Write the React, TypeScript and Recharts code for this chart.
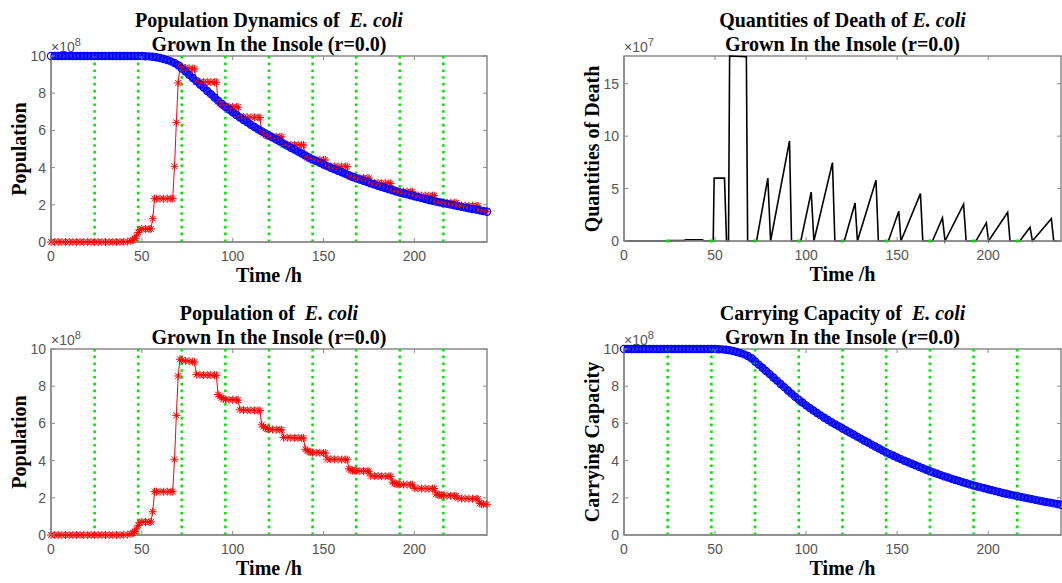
import React from "react";
import { ComposedChart, Line, XAxis, YAxis, ReferenceLine, ReferenceArea, Scatter } from "recharts";

// axis ticks and day marks (hours)
const timeTicks = [0, 50, 100, 150, 200];
const popTicks = [0, 2, 4, 6, 8, 10];
const deathTicks = [0, 5, 10, 15];
const dayMarks = [24, 48, 72, 96, 120, 144, 168, 192, 216];

// population of E. coli, x1e8
const popTime = [
  0, 2, 4, 6, 8, 10, 12, 14, 16, 18, 20, 22, 24, 26, 28, 30, 32, 34, 36, 38,
  40, 42, 44, 45, 46, 47, 48, 49,
  50, 52, 54, 55, 56, 57,
  58, 60, 62, 64, 66, 67,
  68, 69, 70, 71,
  72, 74, 76, 78, 79,
  80, 82, 84, 86, 88, 90, 91,
  92, 93, 94, 95,
  96, 98, 100, 102, 103,
  104, 106, 108, 110, 112, 114, 115,
  116, 117, 118, 119,
  120, 122, 124, 126, 127,
  128, 130, 132, 134, 136, 138, 139,
  140, 141, 142, 143,
  144, 146, 148, 150, 151,
  152, 154, 156, 158, 160, 162, 163,
  164, 165, 166, 167,
  168, 170, 172, 174, 175,
  176, 178, 180, 182, 184, 186, 187,
  188, 189, 190, 191,
  192, 194, 196, 198, 199,
  200, 202, 204, 206, 208, 210, 211,
  212, 213, 214, 215,
  216, 218, 220, 222, 223,
  224, 226, 228, 230, 232, 234, 235,
  236, 237, 238, 240,
];
const popValue = [
  0, 0, 0, 0, 0, 0, 0, 0, 0, 0, 0, 0, 0, 0, 0, 0, 0, 0, 0, 0,
  0.01, 0.02, 0.06, 0.1, 0.18, 0.32, 0.52, 0.66,
  0.7, 0.7, 0.7, 0.7, 1.25, 2.33,
  2.33, 2.33, 2.33, 2.33, 2.33, 2.33,
  4.07, 6.43, 8.55, 9.45,
  9.4, 9.36, 9.34, 9.32, 9.3,
  8.62, 8.61, 8.6, 8.6, 8.6, 8.59, 8.59,
  7.55, 7.45, 7.38, 7.32,
  7.28, 7.27, 7.27, 7.26, 7.25,
  6.73, 6.72, 6.71, 6.7, 6.7, 6.69, 6.69,
  5.92, 5.82, 5.76, 5.71,
  5.68, 5.67, 5.66, 5.66, 5.65,
  5.24, 5.23, 5.23, 5.22, 5.22, 5.21, 5.21,
  4.61, 4.53, 4.48, 4.45,
  4.43, 4.42, 4.42, 4.41, 4.41,
  4.08, 4.07, 4.07, 4.06, 4.06, 4.06, 4.05,
  3.56, 3.5, 3.47, 3.46,
  3.45, 3.44, 3.44, 3.43, 3.43,
  3.18, 3.17, 3.17, 3.16, 3.16, 3.16, 3.15,
  2.84, 2.78, 2.75, 2.73,
  2.72, 2.71, 2.71, 2.7, 2.7,
  2.51, 2.5, 2.5, 2.5, 2.49, 2.49, 2.49,
  2.21, 2.16, 2.14, 2.13,
  2.12, 2.11, 2.11, 2.1, 2.1,
  1.97, 1.96, 1.96, 1.95, 1.95, 1.95, 1.94,
  1.7, 1.67, 1.66, 1.65,
];

// carrying capacity, x1e8
const capTime = [
  0, 2, 4, 6, 8, 10, 12, 14, 16, 18, 20, 22, 24, 26, 28, 30, 32, 34, 36, 38, 40,
  42, 44, 46, 48, 50, 52, 54, 56, 58, 60, 62, 64, 66, 68, 70, 72, 74, 76, 78, 80,
  82, 84, 86, 88, 90, 92, 94, 96, 98, 100, 102, 104, 106, 108, 110, 112, 114, 116, 118, 120,
  122, 124, 126, 128, 130, 132, 134, 136, 138, 140, 142, 144, 146, 148, 150, 152, 154, 156, 158, 160,
  162, 164, 166, 168, 170, 172, 174, 176, 178, 180, 182, 184, 186, 188, 190, 192, 194, 196, 198, 200,
  202, 204, 206, 208, 210, 212, 214, 216, 218, 220, 222, 224, 226, 228, 230, 232, 234, 236, 238, 240,
];
const capValue = [
  10, 10, 10, 10, 10, 10, 10, 10, 10, 10, 10, 10, 10, 10, 10, 10, 10, 10, 10, 10, 10,
  10, 10, 10, 10, 10, 9.99, 9.98, 9.96, 9.93, 9.89, 9.84, 9.78, 9.71, 9.62, 9.5, 9.33, 9.16, 8.99, 8.82, 8.65,
  8.47, 8.3, 8.12, 7.95, 7.77, 7.6, 7.43, 7.27, 7.12, 6.97, 6.83, 6.69, 6.56, 6.43, 6.3, 6.18, 6.06, 5.95, 5.84, 5.73,
  5.62, 5.51, 5.4, 5.29, 5.18, 5.07, 4.97, 4.86, 4.76, 4.65, 4.55, 4.44, 4.35, 4.26, 4.17, 4.08, 3.99, 3.91, 3.83, 3.75,
  3.67, 3.59, 3.51, 3.43, 3.36, 3.29, 3.22, 3.15, 3.09, 3.02, 2.96, 2.9, 2.84, 2.78, 2.72, 2.66, 2.61, 2.56, 2.51, 2.46,
  2.41, 2.36, 2.31, 2.26, 2.22, 2.17, 2.13, 2.09, 2.05, 2.01, 1.97, 1.93, 1.89, 1.85, 1.81, 1.77, 1.74, 1.7, 1.67, 1.63,
];

// quantities of death, x1e7
const deathTime = [
  0, 24, 25, 33, 34, 43, 44, 49, 49.5, 55.2,
  56.3, 57.4, 58, 67.2, 67.9, 72.8, 79, 80.5, 90.9, 92,
  97.1, 102.8, 104.3, 114.5, 115.8, 121, 126.9, 128.2, 138.4, 139.7,
  145.2, 150.9, 152.1, 162.8, 164.1, 169.4, 174.9, 176.3, 186.5, 187.9,
  193.3, 199, 200.2, 210.7, 212, 217.4, 223, 224.3, 234.7, 236,
  240,
];
const deathValue = [
  0, 0, 0.04, 0.04, 0.12, 0.12, 0, 0, 6, 6,
  0, 0, 17.65, 17.58, 0, 0, 6, 0, 9.55, 0,
  0, 4.67, 0, 7.48, 0, 0, 3.62, 0, 5.8, 0,
  0, 2.83, 0, 4.52, 0, 0, 2.2, 0, 3.5, 0,
  0, 1.72, 0, 2.73, 0, 0, 1.32, 0, 2.12, 0,
  0,
];

const popRows = popTime.map((t, i) => ({ t, v: popValue[i] }));
const capRows = capTime.map((t, i) => ({ t, v: capValue[i] }));
const deathRows = deathTime.map((t, i) => ({ t, v: deathValue[i] }));
const dayRows = dayMarks.map((t) => ({ t, v: 0 }));

const AXIS = "#8a8a8a";
const TICK = "#555555";
const GREEN = "#00e600";
const SANS = '"Liberation Sans", Arial, sans-serif';
const SERIF = '"Liberation Serif", "Times New Roman", serif';

type Box = { left: number; top: number; w: number; h: number };

const boxes: Record<string, Box> = {
  tl: { left: 51, top: 56, w: 436, h: 186 },
  tr: { left: 624, top: 56, w: 437, h: 185 },
  bl: { left: 51, top: 349, w: 436, h: 186 },
  br: { left: 624, top: 349, w: 437, h: 186 },
};

function XTick(props: any) {
  const { x, y, payload, plotH } = props;
  return (
    <g>
      <line x1={x} x2={x} y1={y} y2={y - 4} stroke={AXIS} />
      <line x1={x} x2={x} y1={y - plotH} y2={y - plotH + 4} stroke={AXIS} />
      <text x={x} y={y + 18.5} textAnchor="middle" fontSize={14} fill={TICK} fontFamily={SANS}>
        {payload.value}
      </text>
    </g>
  );
}

function YTick(props: any) {
  const { x, y, payload, plotW } = props;
  return (
    <g>
      <line x1={x} x2={x + 4} y1={y} y2={y} stroke={AXIS} />
      <line x1={x + plotW} x2={x + plotW - 4} y1={y} y2={y} stroke={AXIS} />
      <text x={x - 5} y={y + 5} textAnchor="end" fontSize={14} fill={TICK} fontFamily={SANS}>
        {payload.value}
      </text>
    </g>
  );
}

function asteriskDot(p: any) {
  const { cx, cy, index } = p;
  if (cx == null || cy == null) return <g key={index} />;
  const a = 4;
  const d = 2.9;
  return (
    <g key={index} stroke="#ff0000" strokeWidth={1}>
      <line x1={cx - a} x2={cx + a} y1={cy} y2={cy} />
      <line x1={cx} x2={cx} y1={cy - a} y2={cy + a} />
      <line x1={cx - d} x2={cx + d} y1={cy - d} y2={cy + d} />
      <line x1={cx - d} x2={cx + d} y1={cy + d} y2={cy - d} />
    </g>
  );
}

function circleDot(p: any) {
  const { cx, cy, index } = p;
  if (cx == null || cy == null) return <g key={index} />;
  return <circle key={index} cx={cx} cy={cy} r={3.6} fill="none" stroke="#0000ff" strokeWidth={1.2} />;
}

function Panel({ box, yMax, yTicks, children }: { box: Box; yMax: number; yTicks: number[]; children: React.ReactNode }) {
  const ml = 50;
  const mt = 10;
  const mr = 12;
  const xh = 30;
  return (
    <div style={{ position: "absolute", left: box.left - ml, top: box.top - mt }}>
      <ComposedChart
        width={box.w + ml + mr}
        height={box.h + mt + xh}
        margin={{ top: mt, right: mr, left: 0, bottom: 0 }}
      >
        <XAxis
          type="number"
          dataKey="t"
          domain={[0, 240]}
          ticks={timeTicks}
          interval={0}
          height={xh}
          tickLine={false}
          tickSize={0}
          tickMargin={0}
          axisLine={{ stroke: AXIS, strokeWidth: 1.5 }}
          tick={(p: any) => <XTick {...p} plotH={box.h} />}
        />
        <YAxis
          type="number"
          domain={[0, yMax]}
          ticks={yTicks}
          interval={0}
          width={ml}
          tickLine={false}
          tickSize={0}
          tickMargin={0}
          axisLine={{ stroke: AXIS, strokeWidth: 1.5 }}
          tick={(p: any) => <YTick {...p} plotW={box.w} />}
        />
        <ReferenceArea x1={0} x2={240} y1={0} y2={yMax} fill="none" stroke={AXIS} strokeWidth={1.5} />
        {children}
      </ComposedChart>
    </div>
  );
}

function Title({ box, first, second }: { box: Box; first: string; second: string }) {
  return (
    <div
      style={{
        position: "absolute",
        left: box.left + box.w / 2,
        top: box.top - 48,
        transform: "translateX(-50%)",
        textAlign: "center",
        whiteSpace: "pre",
        fontFamily: SERIF,
        fontWeight: "bold",
        fontSize: 20,
        lineHeight: "24px",
        color: "#000",
      }}
    >
      <div>
        {first}
        <i>E. coli</i>
      </div>
      <div>{second}</div>
    </div>
  );
}

function XLabel({ box }: { box: Box }) {
  return (
    <div
      style={{
        position: "absolute",
        left: box.left + box.w / 2,
        top: box.top + box.h + 21,
        transform: "translateX(-50%)",
        whiteSpace: "pre",
        fontFamily: SERIF,
        fontWeight: "bold",
        fontSize: 20,
        lineHeight: "24px",
      }}
    >
      Time /h
    </div>
  );
}

function YLabel({ box, text, cx }: { box: Box; text: string; cx: number }) {
  return (
    <div
      style={{
        position: "absolute",
        left: cx,
        top: box.top + box.h / 2,
        transform: "translate(-50%, -50%) rotate(-90deg)",
        whiteSpace: "pre",
        fontFamily: SERIF,
        fontWeight: "bold",
        fontSize: 20,
        lineHeight: "24px",
      }}
    >
      {text}
    </div>
  );
}

function Exponent({ box, power }: { box: Box; power: string }) {
  return (
    <div
      style={{
        position: "absolute",
        left: box.left,
        top: box.top - 17,
        fontFamily: SANS,
        fontSize: 14,
        lineHeight: "16px",
        color: TICK,
        whiteSpace: "pre",
      }}
    >
      ×10<span style={{ fontSize: 11, position: "relative", top: -6 }}>{power}</span>
    </div>
  );
}

const dayLines = dayMarks.map((d) => (
  <ReferenceLine key={"d" + d} x={d} stroke={GREEN} strokeWidth={2.6} strokeDasharray="2.6 4.2" />
));

export default function App() {
  const { tl, tr, bl, br } = boxes;
  return (
    <div
      style={{
        position: "absolute",
        left: 0,
        top: 0,
        width: 1062,
        height: 583,
        overflow: "hidden",
        background: "#fff",
      }}
    >
      {/* population dynamics */}
      <Panel box={tl} yMax={10} yTicks={popTicks}>
        <Line data={popRows} dataKey="v" type="linear" stroke="#ff0000" strokeWidth={1} dot={asteriskDot} isAnimationActive={false} />
        <Line data={capRows} dataKey="v" type="linear" stroke="#2a2af0" strokeWidth={6.5} dot={circleDot} isAnimationActive={false} />
        {dayLines}
      </Panel>
      <Title box={tl} first={"Population Dynamics of  "} second="Grown In the Insole (r=0.0)" />
      <XLabel box={tl} />
      <YLabel box={tl} text="Population" cx={19} />
      <Exponent box={tl} power="8" />

      {/* quantities of death */}
      <Panel box={tr} yMax={17.65} yTicks={deathTicks}>
        <Line data={deathRows} dataKey="v" type="linear" stroke="#000" strokeWidth={1.6} dot={false} isAnimationActive={false} />
        <Scatter
          data={dayRows}
          dataKey="v"
          isAnimationActive={false}
          shape={(p: any) => <rect x={p.cx - 1.5} y={p.cy - 1.5} width={3} height={3} fill={GREEN} />}
        />
      </Panel>
      <Title box={tr} first={"Quantities of Death of "} second="Grown In the Insole (r=0.0)" />
      <XLabel box={tr} />
      <YLabel box={tr} text="Quantities of Death" cx={592} />
      <Exponent box={tr} power="7" />

      {/* population */}
      <Panel box={bl} yMax={10} yTicks={popTicks}>
        <Line data={popRows} dataKey="v" type="linear" stroke="#ff0000" strokeWidth={1} dot={asteriskDot} isAnimationActive={false} />
        {dayLines}
      </Panel>
      <Title box={bl} first={"Population of  "} second="Grown In the Insole (r=0.0)" />
      <XLabel box={bl} />
      <YLabel box={bl} text="Population" cx={19} />
      <Exponent box={bl} power="8" />

      {/* carrying capacity */}
      <Panel box={br} yMax={10} yTicks={popTicks}>
        <Line data={capRows} dataKey="v" type="linear" stroke="#2a2af0" strokeWidth={6.5} dot={circleDot} isAnimationActive={false} />
        {dayLines}
      </Panel>
      <Title box={br} first={"Carrying Capacity of  "} second="Grown In the Insole (r=0.0)" />
      <XLabel box={br} />
      <YLabel box={br} text="Carrying Capacity" cx={592} />
      <Exponent box={br} power="8" />
    </div>
  );
}
